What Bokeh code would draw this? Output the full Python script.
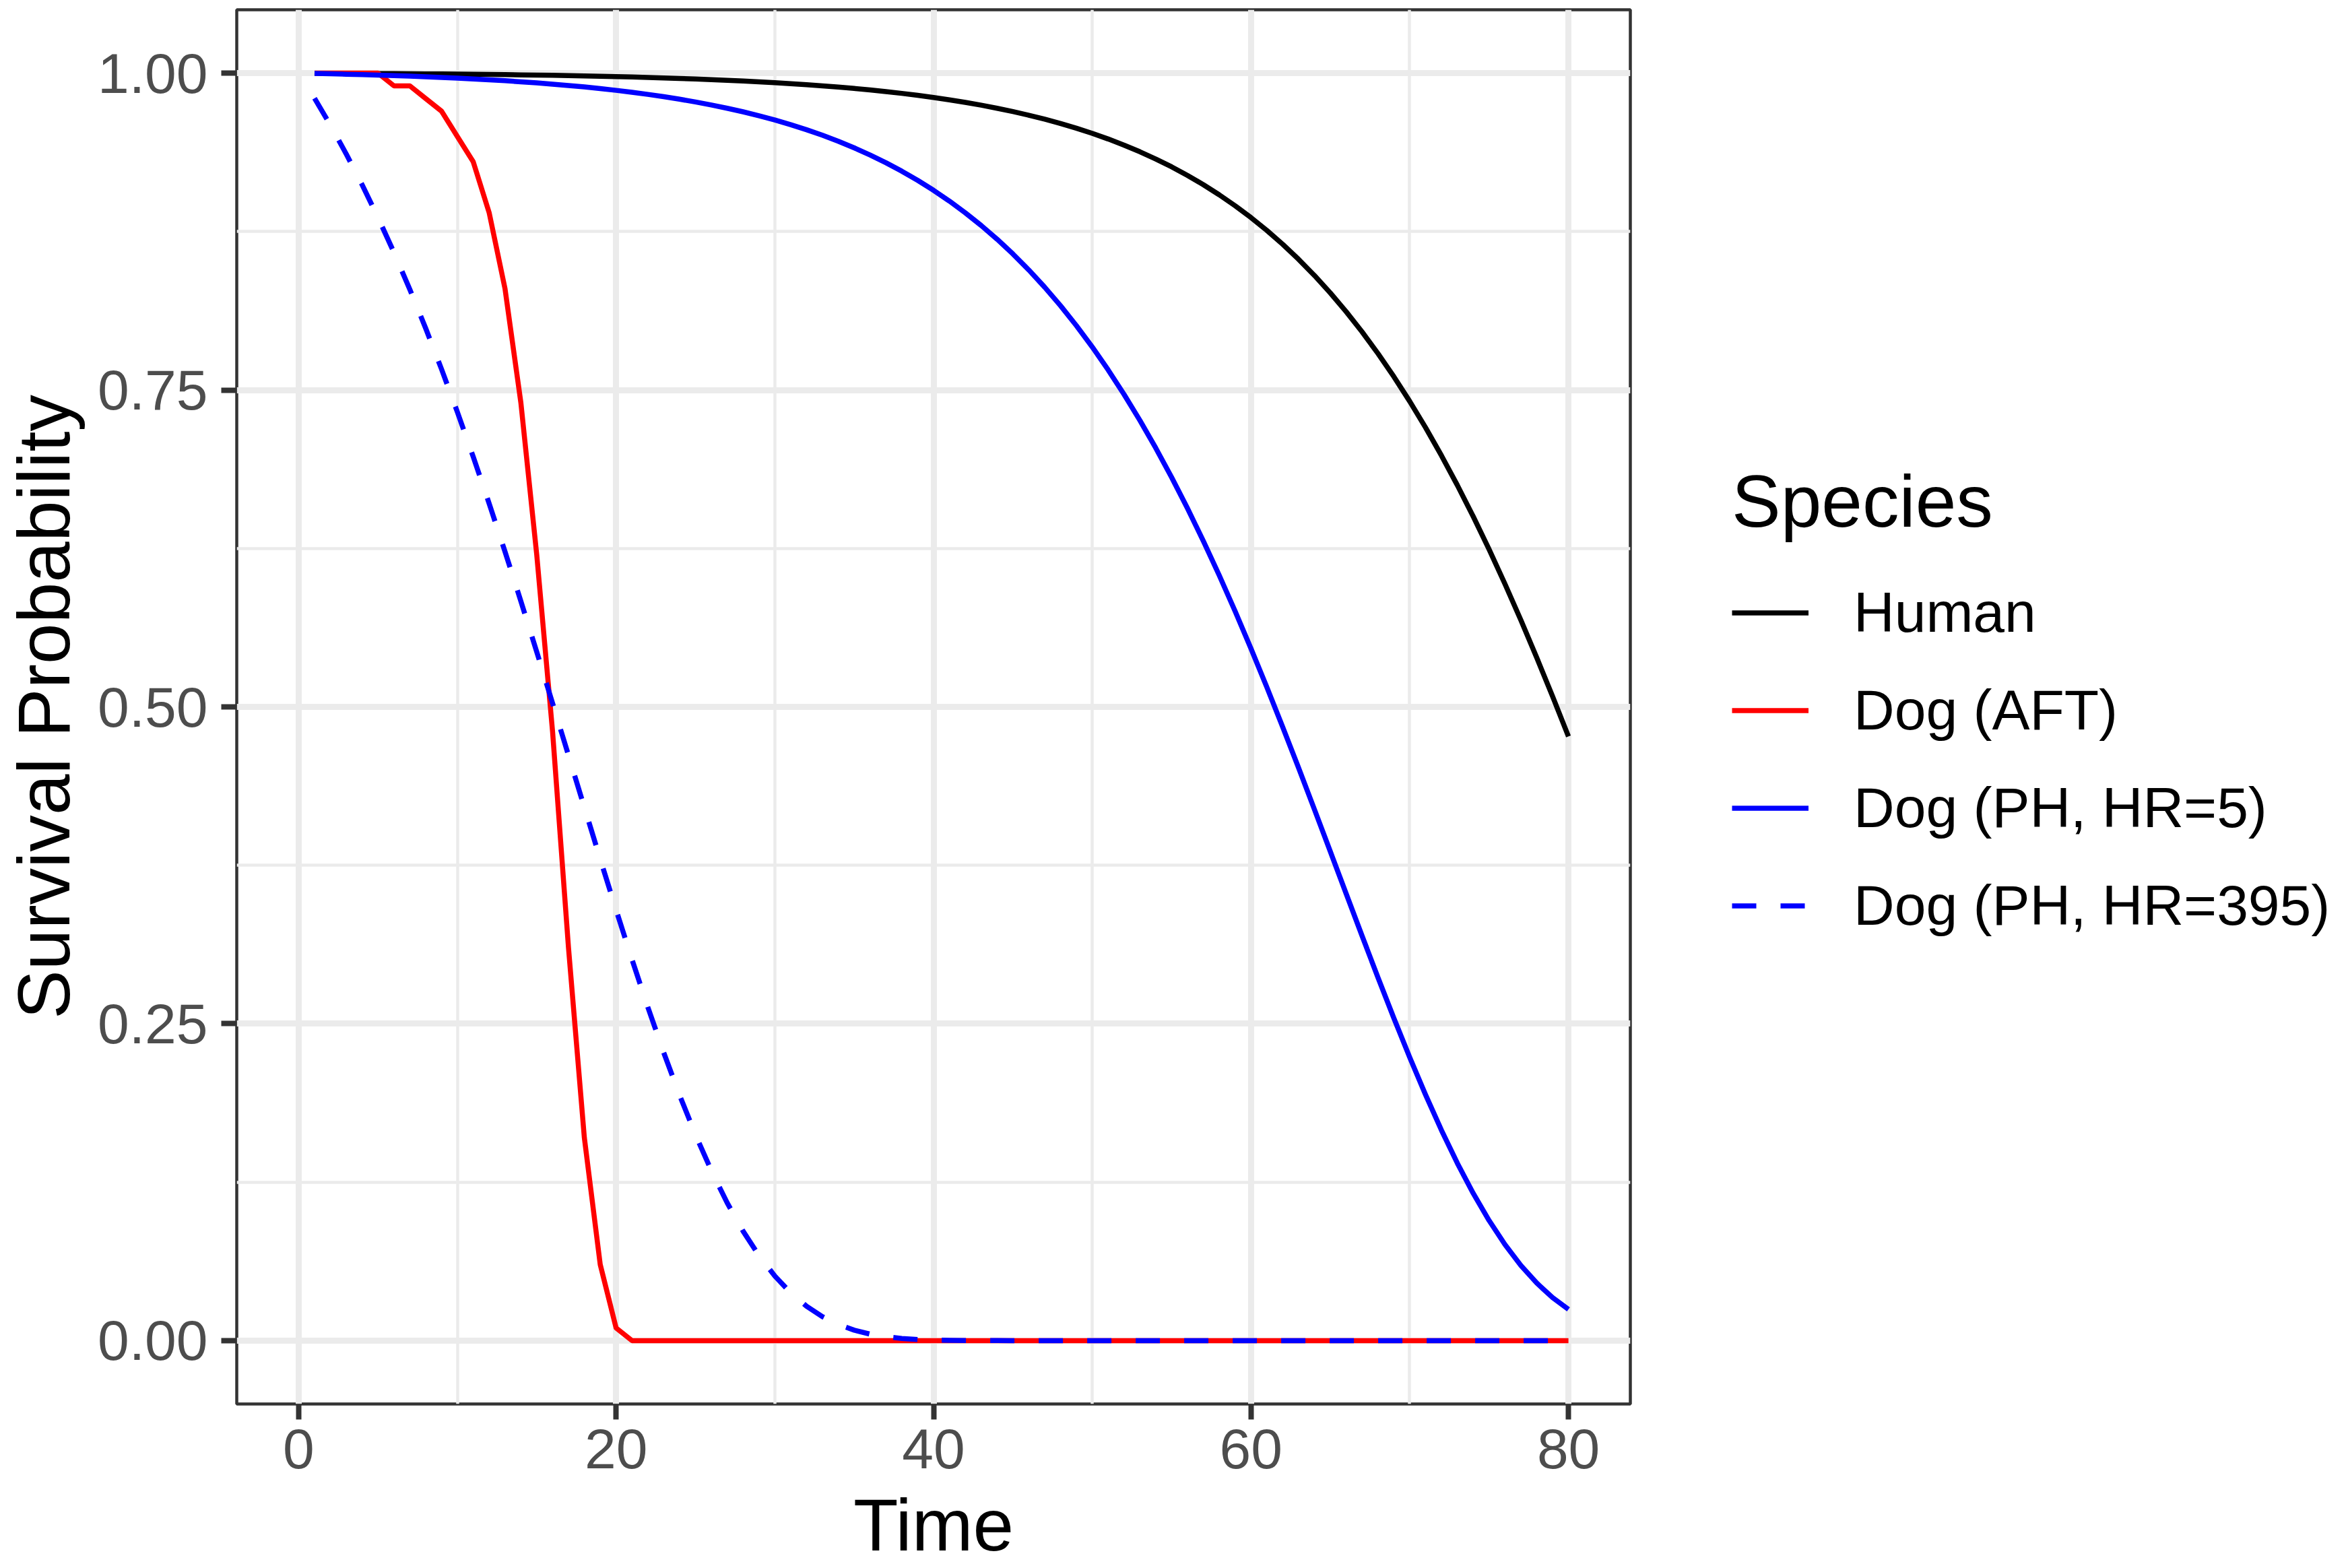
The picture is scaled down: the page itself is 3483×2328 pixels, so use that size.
from bokeh.plotting import figure
from bokeh.layouts import row
from bokeh.models import (Range1d, FixedTicker, Legend, LegendItem,
                          ColumnDataSource, PrintfTickFormatter)
from bokeh.embed import file_html
from bokeh.resources import INLINE

FONT = "Liberation Sans"

# ---------------- data ----------------
time = [1, 2, 3, 4, 5, 6, 7, 8, 9, 10, 11, 12, 13, 14, 15, 16, 17, 18, 19, 20,
        21, 22, 23, 24, 25, 26, 27, 28, 29, 30, 31, 32, 33, 34, 35, 36, 37, 38, 39, 40,
        41, 42, 43, 44, 45, 46, 47, 48, 49, 50, 51, 52, 53, 54, 55, 56, 57, 58, 59, 60,
        61, 62, 63, 64, 65, 66, 67, 68, 69, 70, 71, 72, 73, 74, 75, 76, 77, 78, 79, 80]

human = [0.99995, 0.99989, 0.99983, 0.99977, 0.99969, 0.99961, 0.99953, 0.99943, 0.99933, 0.99921,
         0.99909, 0.99895, 0.99880, 0.99864, 0.99846, 0.99826, 0.99805, 0.99781, 0.99755, 0.99727,
         0.99696, 0.99663, 0.99626, 0.99585, 0.99541, 0.99493, 0.99440, 0.99382, 0.99318, 0.99249,
         0.99173, 0.99091, 0.99000, 0.98901, 0.98792, 0.98674, 0.98545, 0.98403, 0.98248, 0.98079,
         0.97894, 0.97692, 0.97472, 0.97231, 0.96968, 0.96681, 0.96368, 0.96026, 0.95654, 0.95248,
         0.94805, 0.94323, 0.93798, 0.93227, 0.92606, 0.91930, 0.91197, 0.90401, 0.89537, 0.88601,
         0.87588, 0.86492, 0.85308, 0.84031, 0.82655, 0.81174, 0.79584, 0.77879, 0.76055, 0.74107,
         0.72031, 0.69826, 0.67490, 0.65022, 0.62424, 0.59699, 0.56853, 0.53892, 0.50828, 0.47673]

dog_aft = [1.00, 1.00, 1.00, 1.00, 1.00, 0.99, 0.99, 0.98, 0.97, 0.95,
           0.93, 0.89, 0.83, 0.74, 0.62, 0.48, 0.31, 0.16, 0.06, 0.01,
           0.00, 0.00, 0.00, 0.00, 0.00, 0.00, 0.00, 0.00, 0.00, 0.00,
           0.00, 0.00, 0.00, 0.00, 0.00, 0.00, 0.00, 0.00, 0.00, 0.00,
           0.00, 0.00, 0.00, 0.00, 0.00, 0.00, 0.00, 0.00, 0.00, 0.00,
           0.00, 0.00, 0.00, 0.00, 0.00, 0.00, 0.00, 0.00, 0.00, 0.00,
           0.00, 0.00, 0.00, 0.00, 0.00, 0.00, 0.00, 0.00, 0.00, 0.00,
           0.00, 0.00, 0.00, 0.00, 0.00, 0.00, 0.00, 0.00, 0.00, 0.00]

dog_ph5 = [0.99975, 0.99947, 0.99917, 0.99883, 0.99847, 0.99807, 0.99764, 0.99716, 0.99664, 0.99607,
           0.99545, 0.99476, 0.99402, 0.99320, 0.99231, 0.99133, 0.99027, 0.98910, 0.98783, 0.98643,
           0.98491, 0.98324, 0.98142, 0.97943, 0.97726, 0.97489, 0.97230, 0.96948, 0.96639, 0.96302,
           0.95935, 0.95535, 0.95099, 0.94623, 0.94106, 0.93543, 0.92931, 0.92265, 0.91542, 0.90757,
           0.89905, 0.88981, 0.87982, 0.86900, 0.85732, 0.84471, 0.83112, 0.81649, 0.80077, 0.78393,
           0.76587, 0.74660, 0.72605, 0.70421, 0.68106, 0.65659, 0.63081, 0.60374, 0.57545, 0.54601,
           0.51548, 0.48404, 0.45181, 0.41898, 0.38578, 0.35245, 0.31925, 0.28649, 0.25447, 0.22350,
           0.19391, 0.16600, 0.14002, 0.11623, 0.09479, 0.07583, 0.05938, 0.04546, 0.03392, 0.02462]

dog_ph395 = [0.98017, 0.95891, 0.93617, 0.91189, 0.88604, 0.85859, 0.82951, 0.79880, 0.76649, 0.73263,
             0.69726, 0.66051, 0.62250, 0.58340, 0.54340, 0.50276, 0.46175, 0.42069, 0.37991, 0.33979,
             0.30072, 0.26308, 0.22726, 0.19361, 0.16247, 0.13409, 0.10868, 0.08635, 0.06713, 0.05096,
             0.03769, 0.02709, 0.01887, 0.01271, 0.00824, 0.00513, 0.00305, 0.00173, 0.00093, 0.00047,
             0.00022, 0.00010, 0.00004, 0.00002, 0.00001, 0.00000, 0.00000, 0.00000, 0.00000, 0.00000,
             0.00000, 0.00000, 0.00000, 0.00000, 0.00000, 0.00000, 0.00000, 0.00000, 0.00000, 0.00000,
             0.00000, 0.00000, 0.00000, 0.00000, 0.00000, 0.00000, 0.00000, 0.00000, 0.00000, 0.00000,
             0.00000, 0.00000, 0.00000, 0.00000, 0.00000, 0.00000, 0.00000, 0.00000, 0.00000, 0.00000]

series_names = ["Human", "Dog (AFT)", "Dog (PH, HR=5)", "Dog (PH, HR=395)"]
series_colors = ["black", "#FF0000", "#0000FF", "#0000FF"]
series_dash = ["solid", "solid", "solid", "36 36"]
x_ticks = [0, 20, 40, 60, 80]
x_minor = [10, 30, 50, 70]
y_ticks = [0.0, 0.25, 0.5, 0.75, 1.0]
y_minor = [0.125, 0.375, 0.625, 0.875]
x_title = "Time"
y_title = "Survival Probability"
legend_title = "Species"

LABEL_PX = "84px"
TITLE_PX = "109px"
LW = 7.5

# ---------------- main panel ----------------
p = figure(width=2430, height=2328, output_backend="svg", toolbar_location=None,
           x_range=Range1d(-3.9, 83.9), y_range=Range1d(-0.05, 1.05),
           min_border_left=351, min_border_right=10,
           min_border_top=14, min_border_bottom=244)
p.background_fill_color = "white"
p.border_fill_color = "white"
p.outline_line_color = "#333333"
p.outline_line_width = 4.5

xt = FixedTicker(ticks=x_ticks, minor_ticks=x_minor)
yt = FixedTicker(ticks=y_ticks, minor_ticks=y_minor)
p.xaxis.ticker = xt
p.yaxis.ticker = yt
p.xgrid.ticker = xt
p.ygrid.ticker = yt
p.yaxis.formatter = PrintfTickFormatter(format="%.2f")

for g in (p.xgrid, p.ygrid):
    g.grid_line_color = "#EBEBEB"
    g.grid_line_width = 9
    g.minor_grid_line_color = "#EBEBEB"
    g.minor_grid_line_width = 4.5

for ax in (p.xaxis, p.yaxis):
    ax.axis_line_color = None
    ax.major_tick_in = 0
    ax.major_tick_out = 23
    ax.major_tick_line_color = "#333333"
    ax.major_tick_line_width = 8
    ax.minor_tick_line_color = None
    ax.major_label_text_font = FONT
    ax.major_label_text_font_size = LABEL_PX
    ax.major_label_text_color = "#4D4D4D"
    ax.axis_label_text_font = FONT
    ax.axis_label_text_font_size = TITLE_PX
    ax.axis_label_text_font_style = "normal"
    ax.axis_label_text_color = "black"

p.xaxis.axis_label = x_title
p.yaxis.axis_label = y_title
p.xaxis.major_label_standoff = 14
p.xaxis.axis_label_standoff = 20
p.yaxis.major_label_standoff = 20
p.yaxis.axis_label_standoff = 16

src = ColumnDataSource(dict(t=time, human=human, aft=dog_aft, ph5=dog_ph5, ph395=dog_ph395))
cols = ["human", "aft", "ph5", "ph395"]
for c, col, dash in zip(cols, series_colors, series_dash):
    p.line("t", c, source=src, line_color=col, line_width=LW, line_join="round",
           line_dash=dash)

# ---------------- legend panel ----------------
q = figure(width=1053, height=2328, output_backend="svg", toolbar_location=None,
           x_axis_type=None, y_axis_type=None,
           x_range=Range1d(0, 1), y_range=Range1d(0, 1),
           min_border_left=0, min_border_right=0, min_border_top=0, min_border_bottom=0)
q.grid.visible = False
q.outline_line_color = None
q.background_fill_color = "white"
q.border_fill_color = "white"

# legend-key carriers: kept outside the visible range of this blank panel
key_src = ColumnDataSource(dict(x=[5, 6], y=[5, 5]))
items = []
for name, col, dash in zip(series_names, series_colors, series_dash):
    r = q.line("x", "y", source=key_src, line_color=col, line_width=LW, line_dash=dash)
    items.append(LegendItem(label=name, renderers=[r]))

legend = Legend(items=items, location=(141, 667), title=legend_title,
                title_text_font=FONT, title_text_font_size=TITLE_PX,
                title_text_color="black", title_text_font_style="normal",
                title_standoff=30,
                label_text_font=FONT, label_text_font_size=LABEL_PX, label_text_color="black",
                glyph_width=114, glyph_height=145, label_height=145, label_standoff=67,
                spacing=0, padding=0, margin=0,
                border_line_color=None, background_fill_alpha=0)
q.add_layout(legend)

layout = row(p, q, spacing=0)
open("out.html", "w").write(file_html(layout, INLINE))
